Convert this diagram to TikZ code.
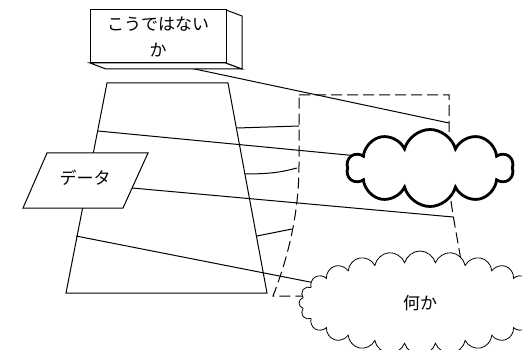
\documentclass[tikz,border=0pt]{standalone}
\usepackage{fontspec}
\setmainfont{Noto Sans CJK JP}
\usetikzlibrary{shapes.symbols}
\begin{document}
\begin{tikzpicture}[x=1pt,y=-1pt,line width=1pt,
  lbl/.style={font=\fontsize{17}{26}\selectfont},
  dashline/.style={dash pattern=on 11pt off 5pt},
  wire/.style={line width=1pt},
  boxface/.style={draw,fill=white,line width=1pt},
  puffy/.style={cloud,draw,fill=white,anchor=center}]
\useasboundingbox (0,0) rectangle (522,350);

% trapezoid body
\coordinate (tTL) at (107,83);
\coordinate (tTR) at (228,83);
\coordinate (tBR) at (267,293);
\coordinate (tBL) at (66,293);
\draw (tTL) -- (tTR) -- (tBR) -- (tBL) -- cycle;

% dashed container
\coordinate (dTL) at (299,95);
\coordinate (dTR) at (449,95);
\coordinate (dBL) at (273,296);
\coordinate (dBR) at (466,296);
\draw[dashline] (dTL) -- (dTR) -- (449,180)
  .. controls (451,215) and (460,245) .. (dBR) -- (dBL)
  .. controls (285,265) and (299,220) .. (299,165) -- cycle;

% short links from the trapezoid to the container
\coordinate (s1a) at (237,128);  \coordinate (s1b) at (299,126);
\coordinate (s2a) at (245,174);  \coordinate (s2b) at (297,168);
\coordinate (s3a) at (257,236);  \coordinate (s3b) at (292,229);
\draw[wire] (s1a) -- (s1b);
\draw[wire] (s2a) .. controls (275,174) and (285,171) .. (s2b);
\draw[wire] (s3a) -- (s3b);

% long links
\coordinate (l1a) at (98,131);   \coordinate (l1b) at (358,156);
\coordinate (l2a) at (132,188);  \coordinate (l2b) at (453,217);
\coordinate (l3a) at (76,236);   \coordinate (l3b) at (315,283);
\coordinate (l4a) at (190,68);   \coordinate (l4b) at (449,123);
\draw[wire] (l1a) -- (l1b);
\draw[wire] (l2a) -- (l2b);
\draw[wire] (l3a) -- (l3b);
\draw[wire] (l4a) -- (l4b);

% 3D box with label
\coordinate (bFTL) at (90,10);
\coordinate (bFTR) at (226,10);
\coordinate (bFBR) at (226,63);
\coordinate (bFBL) at (90,63);
\coordinate (bKTR) at (242,16);
\coordinate (bKBR) at (242,69);
\coordinate (bKBL) at (106,69);
\filldraw[boxface] (bFBL) -- (bFBR) -- (bKBR) -- (bKBL) -- cycle;
\filldraw[boxface] (bFTR) -- (bKTR) -- (bKBR) -- (bFBR) -- cycle;
\node[boxface,minimum width=136pt,minimum height=53pt,inner sep=0pt,lbl,align=center]
  (box) at (158,36.5) {こうではない\\か};

% data parallelogram
\coordinate (pTL) at (47,153);
\coordinate (pTR) at (148,153);
\coordinate (pBR) at (123,208);
\coordinate (pBL) at (23,208);
\filldraw[boxface] (pTL) -- (pTR) -- (pBR) -- (pBL) -- cycle;
\node[lbl] (data) at (85,178) {データ};

% clouds
\node[puffy,cloud puffs=10,aspect=2.2,minimum width=166pt,minimum height=77pt,
  line width=2.8pt] (bold) at (430,168) {};
\node[puffy,cloud puffs=24,aspect=2.4,minimum width=242pt,minimum height=104pt,
  line width=0.8pt,lbl] (misc) at (420,303) {何か};
\end{tikzpicture}
\end{document}
